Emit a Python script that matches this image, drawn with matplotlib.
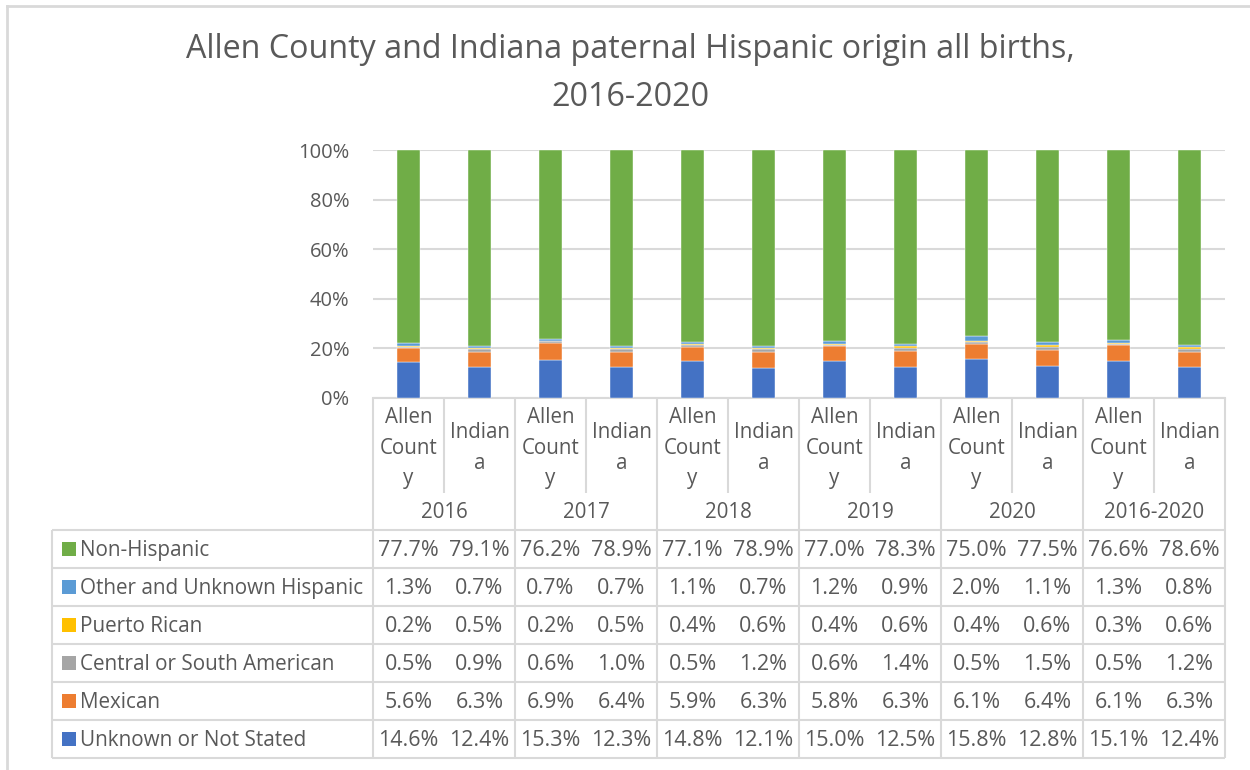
import numpy as np
import matplotlib
matplotlib.use("Agg")
import matplotlib.pyplot as plt

plt.rcParams['font.family'] = ['Open Sans', 'DejaVu Sans']

years = ["2016", "2017", "2018", "2019", "2020", "2016-2020"]
places = ["Allen County", "Indiana"]
place_labels = ["Allen\nCount\ny", "Indian\na"]

series_names = ["Unknown or Not Stated", "Mexican", "Central or South American",
                "Puerto Rican", "Other and Unknown Hispanic", "Non-Hispanic"]
series_colors = ["#4472C4", "#ED7D31", "#A5A5A5", "#FFC000", "#5B9BD5", "#70AD47"]

# values per column: Allen 2016, Indiana 2016, Allen 2017, ...
unknown_not_stated = [14.6, 12.4, 15.3, 12.3, 14.8, 12.1, 15.0, 12.5, 15.8, 12.8, 15.1, 12.4]
mexican            = [5.6, 6.3, 6.9, 6.4, 5.9, 6.3, 5.8, 6.3, 6.1, 6.4, 6.1, 6.3]
central_south      = [0.5, 0.9, 0.6, 1.0, 0.5, 1.2, 0.6, 1.4, 0.5, 1.5, 0.5, 1.2]
puerto_rican       = [0.2, 0.5, 0.2, 0.5, 0.4, 0.6, 0.4, 0.6, 0.4, 0.6, 0.3, 0.6]
other_unknown      = [1.3, 0.7, 0.7, 0.7, 1.1, 0.7, 1.2, 0.9, 2.0, 1.1, 1.3, 0.8]
non_hispanic       = [77.7, 79.1, 76.2, 78.9, 77.1, 78.9, 77.0, 78.3, 75.0, 77.5, 76.6, 78.6]

series = [unknown_not_stated, mexican, central_south, puerto_rican, other_unknown, non_hispanic]

W, H = 1250, 770
fig = plt.figure(figsize=(12.5, 7.7), dpi=100)

TXT = "#595959"
GRID = "#D9D9D9"

# plot area in pixel coordinates
x0, x1 = 373, 1225
y_top, y_bot = 150, 398
ax = fig.add_axes([x0 / W, 1 - y_bot / H, (x1 - x0) / W, (y_bot - y_top) / H])

n = len(unknown_not_stated)
data = np.array(series, dtype=float)
totals = data.sum(axis=0)
pct = data / totals * 100
xs = np.arange(n)
bottom = np.zeros(n)
for vals, col in zip(pct, series_colors):
    ax.bar(xs, vals, bottom=bottom, width=0.32, color=col, edgecolor="white", linewidth=0.3, zorder=3)
    bottom += vals

ax.set_xlim(-0.5, n - 0.5)
ax.set_ylim(0, 100)
ax.set_yticks([0, 20, 40, 60, 80, 100])
ax.set_yticklabels([f"{t}%" for t in [0, 20, 40, 60, 80, 100]], color=TXT, fontsize=14.5)
ax.tick_params(axis='y', length=0, pad=17)
ax.tick_params(axis='x', length=0, labelbottom=False)
ax.grid(axis='y', color=GRID, linewidth=1.5, zorder=0)
for s in ["top", "right", "left"]:
    ax.spines[s].set_visible(False)
ax.spines["bottom"].set_color(GRID)
ax.spines["bottom"].set_linewidth(1.5)

# overlay for title, table and frame in pixel coordinates
ov = fig.add_axes([0, 0, 1, 1], facecolor="none")
ov.set_xlim(0, W)
ov.set_ylim(H, 0)
ov.axis("off")

ov.plot([7, 7], [6, H + 5], color=GRID, lw=2)
ov.plot([7, W + 5], [6, 6], color=GRID, lw=2)

ov.text(630, 49, "Allen County and Indiana paternal Hispanic origin all births,",
        ha="center", va="center", fontsize=23.2, color=TXT)
ov.text(630, 98, "2016-2020", ha="center", va="center", fontsize=23.2, color=TXT)

colw = (x1 - x0) / n
lw = 1.5

def hline(y, xa, xb):
    ov.plot([xa, xb], [y, y], color=GRID, lw=lw, solid_capstyle="butt")

def vline(x, ya, yb):
    ov.plot([x, x], [ya, yb], color=GRID, lw=lw, solid_capstyle="butt")

table_top = 530
row_h = 38
rows_order = list(reversed(range(len(series_names))))  # Non-Hispanic first
table_bot = table_top + row_h * len(rows_order)
leg_x = 52

# category header region
for i in range(n + 1):
    xx = x0 + i * colw
    if i % 2 == 0:
        vline(xx, y_bot, table_bot)
    else:
        vline(xx, y_bot, 493)
vline(leg_x, table_top, table_bot)
for r in range(len(rows_order) + 1):
    hline(table_top + r * row_h, leg_x, x1)

for i in range(n):
    cx = x0 + (i + 0.5) * colw
    ov.text(cx, 448, place_labels[i % 2], ha="center", va="center",
            fontsize=14.8, color=TXT, linespacing=1.57)
for j, yr in enumerate(years):
    cx = x0 + (2 * j + 1) * colw
    ov.text(cx, 512, yr, ha="center", va="center", fontsize=14.8, color=TXT)

for r, si in enumerate(rows_order):
    cy = table_top + (r + 0.5) * row_h + 1.5
    ov.add_patch(plt.Rectangle((62, cy - 8.5), 14, 14, color=series_colors[si], lw=0))
    ov.text(80, cy, series_names[si], ha="left", va="center", fontsize=14.9, color=TXT)
    for i in range(n):
        cx = x0 + (i + 0.5) * colw
        ov.text(cx, cy, f"{series[si][i]:.1f}%", ha="center", va="center",
                fontsize=15.5, color=TXT)

fig.savefig("out.png", dpi=100, facecolor="white")
